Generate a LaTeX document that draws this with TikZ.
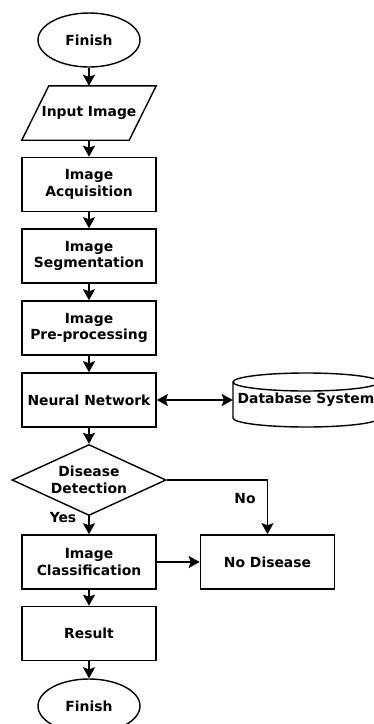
\documentclass[tikz,border=0pt]{standalone}
\usepackage{fontspec}
\setmainfont{DejaVu Sans}
\usetikzlibrary{shapes.geometric,arrows.meta}
\begin{document}
\begin{tikzpicture}[x=1pt,y=1pt,
  every node/.style={font=\fontsize{13.9}{16.5}\selectfont\bfseries, align=center, inner sep=0pt},
  proc/.style={draw, line width=1.6pt, minimum width=134, minimum height=54},
  term/.style={draw, ellipse, line width=1.4pt, minimum width=102, minimum height=54},
  conn/.style={line width=1.6pt, -{Stealth[length=11pt,width=12pt,inset=2pt]}},
  lbl/.style={font=\fontsize{13.9}{16}\selectfont\bfseries}]
\useasboundingbox (0,0) rectangle (374,-724);
\node[term] (start) at (89,-40) {Finish};
\node[minimum width=107, minimum height=54] (inp) at (89,-113) {Input Image};
\draw[line width=1.4pt] ([xshift=13.5]inp.north west) -- ([xshift=13.5]inp.north east) -- ([xshift=-13.5]inp.south east) -- ([xshift=-13.5]inp.south west) -- cycle;
\node[proc] (acq) at (89,-184.5) {Image\\Acquisition};
\node[proc] (seg) at (89,-256) {Image\\Segmentation};
\node[proc] (pre) at (89,-328) {Image\\Pre-processing};
\node[proc] (nn) at (89,-400) {Neural Network};
\node[minimum width=146, minimum height=54] (db) at (306,-400) {Database System};
\draw[line width=1.4pt] (233,-382) -- (233,-418) arc[start angle=180,end angle=360,x radius=73,y radius=9] -- (379,-382);
\draw[line width=1.4pt] (306,-382) ellipse [x radius=73,y radius=9];
\node[draw, diamond, line width=1.4pt, aspect=2.17, minimum width=154, minimum height=71] (dd) at (89,-480) {Disease\\Detection};
\node[proc] (cls) at (89,-562) {Image\\Classification};
\node[proc] (nod) at (267.5,-562) {No Disease};
\node[proc] (res) at (89,-633.5) {Result};
\node[term] (end) at (89,-706) {Finish};
\draw[conn] (start) -- (inp);
\draw[conn] (inp) -- (acq);
\draw[conn] (acq) -- (seg);
\draw[conn] (seg) -- (pre);
\draw[conn] (pre) -- (nn);
\draw[line width=1.6pt, {Stealth[length=11pt,width=12pt,inset=2pt]}-{Stealth[length=11pt,width=12pt,inset=2pt]}] (nn.east) -- (db.west);
\draw[conn] (nn) -- (dd);
\draw[conn] (dd) -- (cls);
\draw[conn] (dd.east) -| (nod.north);
\draw[conn] (cls) -- (nod);
\draw[conn] (cls) -- (res);
\draw[conn] (res) -- (end);
\node[lbl] (yes) at (63,-518) {Yes};
\node[lbl] (no) at (245,-499) {No};
\end{tikzpicture}
\end{document}
